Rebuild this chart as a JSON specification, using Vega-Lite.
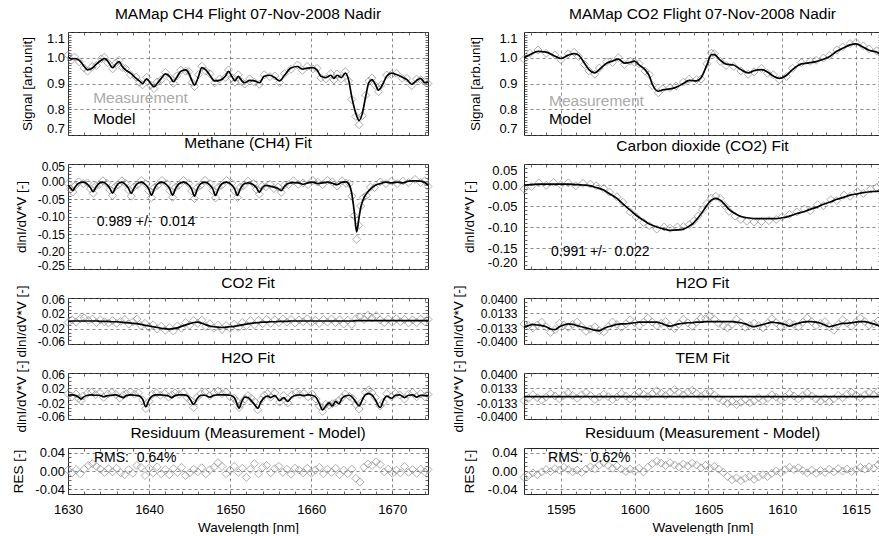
{
  "$schema": "https://vega.github.io/schema/vega-lite/v6.json",
  "padding": {"left": 11, "top": 6, "right": 0, "bottom": 0},
  "columns": 2,
  "spacing": {"row": 29, "column": 96},
  "bounds": "flush",
  "resolve": {"scale": {"x": "independent", "y": "independent"}},
  "config": {
    "font": "Liberation Sans",
    "view": {"stroke": "#222222", "strokeWidth": 1},
    "title": {"font": "Liberation Sans", "fontSize": 15.5, "fontWeight": "normal", "color": "#000000", "baseline": "alphabetic", "offset": 9, "anchor": "middle"},
    "axis": {
      "domain": false, "ticks": false, "labelOverlap": false,
      "labelFont": "Liberation Sans", "labelFontSize": 13, "labelColor": "#000000", "labelPadding": 3.5,
      "titleFont": "Liberation Sans", "titleFontSize": 13.5, "titleFontWeight": "normal", "titleColor": "#000000", "titlePadding": 9,
      "gridColor": "#555555", "gridDash": [3, 3], "gridWidth": 0.7, "gridOpacity": 1,
      "tickColor": "#444444", "tickWidth": 0.8
    },
    "text": {"font": "Liberation Sans"}
  },
  "datasets": {
    "s1": [
      {"w":1630.0,"f":1.004,"m":1.010},{"w":1630.4,"f":0.995,"m":0.990},{"w":1630.8,"f":0.997,"m":1.003},{"w":1631.4,"f":0.990,"m":0.984},
      {"w":1632.0,"f":0.966,"m":0.960},{"w":1632.4,"f":0.953,"m":0.948},{"w":1633.0,"f":0.960,"m":0.966},{"w":1633.5,"f":0.975,"m":0.970},
      {"w":1634.1,"f":0.990,"m":0.996},{"w":1634.5,"f":0.997,"m":1.002},{"w":1634.9,"f":0.987,"m":0.981},{"w":1635.5,"f":0.962,"m":0.957},
      {"w":1635.9,"f":0.975,"m":0.980},{"w":1636.3,"f":0.985,"m":0.990},{"w":1636.7,"f":0.966,"m":0.962},{"w":1637.1,"f":0.953,"m":0.958},
      {"w":1637.7,"f":0.940,"m":0.934},{"w":1638.4,"f":0.920,"m":0.925},{"w":1638.8,"f":0.910,"m":0.904},{"w":1639.2,"f":0.900,"m":0.895},
      {"w":1639.7,"f":0.918,"m":0.924},{"w":1640.2,"f":0.900,"m":0.894},{"w":1640.6,"f":0.887,"m":0.880},{"w":1641.0,"f":0.900,"m":0.906},
      {"w":1641.5,"f":0.920,"m":0.915},{"w":1642.0,"f":0.937,"m":0.943},{"w":1642.6,"f":0.925,"m":0.920},{"w":1643.0,"f":0.907,"m":0.901},
      {"w":1643.4,"f":0.923,"m":0.929},{"w":1643.9,"f":0.947,"m":0.952},{"w":1644.5,"f":0.953,"m":0.948},{"w":1644.9,"f":0.940,"m":0.946},
      {"w":1645.3,"f":0.910,"m":0.904},{"w":1645.6,"f":0.894,"m":0.888},{"w":1646.1,"f":0.928,"m":0.934},{"w":1646.5,"f":0.962,"m":0.967},
      {"w":1647.0,"f":0.953,"m":0.948},{"w":1647.5,"f":0.932,"m":0.938},{"w":1648.1,"f":0.910,"m":0.903},{"w":1648.7,"f":0.912,"m":0.918},
      {"w":1649.4,"f":0.928,"m":0.923},{"w":1649.8,"f":0.947,"m":0.953},{"w":1650.2,"f":0.928,"m":0.922},{"w":1650.6,"f":0.910,"m":0.905},
      {"w":1651.0,"f":0.928,"m":0.934},{"w":1651.4,"f":0.912,"m":0.907},{"w":1651.8,"f":0.903,"m":0.898},{"w":1652.4,"f":0.912,"m":0.918},
      {"w":1653.0,"f":0.910,"m":0.905},{"w":1653.6,"f":0.903,"m":0.897},{"w":1654.2,"f":0.928,"m":0.934},{"w":1654.9,"f":0.932,"m":0.927},
      {"w":1655.5,"f":0.923,"m":0.929},{"w":1656.1,"f":0.910,"m":0.904},{"w":1656.7,"f":0.932,"m":0.938},{"w":1657.5,"f":0.960,"m":0.955},
      {"w":1658.3,"f":0.966,"m":0.972},{"w":1658.9,"f":0.956,"m":0.951},{"w":1659.5,"f":0.960,"m":0.966},{"w":1660.2,"f":0.962,"m":0.957},
      {"w":1660.7,"f":0.953,"m":0.959},{"w":1661.2,"f":0.928,"m":0.922},{"w":1661.8,"f":0.923,"m":0.918},{"w":1662.4,"f":0.932,"m":0.938},
      {"w":1662.8,"f":0.920,"m":0.914},{"w":1663.2,"f":0.932,"m":0.937},{"w":1663.7,"f":0.923,"m":0.918},{"w":1664.2,"f":0.940,"m":0.946},
      {"w":1664.6,"f":0.915,"m":0.910},{"w":1665.0,"f":0.847,"m":0.838},{"w":1665.5,"f":0.784,"m":0.772},{"w":1665.9,"f":0.756,"m":0.740},
      {"w":1666.3,"f":0.784,"m":0.775},{"w":1666.7,"f":0.847,"m":0.855},{"w":1667.1,"f":0.903,"m":0.909},{"w":1667.5,"f":0.915,"m":0.921},
      {"w":1667.9,"f":0.897,"m":0.892},{"w":1668.3,"f":0.874,"m":0.868},{"w":1668.7,"f":0.890,"m":0.896},{"w":1669.3,"f":0.928,"m":0.933},
      {"w":1669.9,"f":0.940,"m":0.935},{"w":1670.5,"f":0.935,"m":0.940},{"w":1671.2,"f":0.925,"m":0.920},{"w":1671.8,"f":0.915,"m":0.920},
      {"w":1672.4,"f":0.897,"m":0.892},{"w":1673.0,"f":0.912,"m":0.917},{"w":1673.5,"f":0.920,"m":0.915},{"w":1674.0,"f":0.903,"m":0.908},
      {"w":1674.4,"f":0.905,"m":0.900}
    ],
    "c1": [
      {"w":1630.0,"f":-0.010,"m":-0.006},{"w":1630.3,"f":-0.018,"m":-0.022},{"w":1630.6,"f":-0.026,"m":-0.030},{"w":1630.9,"f":-0.015,"m":-0.012},
      {"w":1631.3,"f":-0.005,"m":-0.001},{"w":1631.9,"f":-0.002,"m":-0.006},{"w":1632.4,"f":-0.008,"m":-0.004},{"w":1632.75,"f":-0.017,"m":-0.021},
      {"w":1633.1,"f":-0.029,"m":-0.034},{"w":1633.45,"f":-0.016,"m":-0.012},{"w":1633.85,"f":-0.005,"m":-0.009},{"w":1634.3,"f":-0.002,"m":0.002},
      {"w":1634.8,"f":-0.009,"m":-0.005},{"w":1635.15,"f":-0.019,"m":-0.024},{"w":1635.5,"f":-0.033,"m":-0.040},{"w":1635.85,"f":-0.018,"m":-0.014},
      {"w":1636.2,"f":-0.006,"m":-0.010},{"w":1636.65,"f":-0.002,"m":0.002},{"w":1637.1,"f":-0.009,"m":-0.005},{"w":1637.45,"f":-0.019,"m":-0.024},
      {"w":1637.8,"f":-0.034,"m":-0.042},{"w":1638.15,"f":-0.019,"m":-0.015},{"w":1638.55,"f":-0.006,"m":-0.010},{"w":1639.05,"f":-0.002,"m":0.003},
      {"w":1639.6,"f":-0.010,"m":-0.006},{"w":1639.95,"f":-0.021,"m":-0.026},{"w":1640.3,"f":-0.039,"m":-0.046},{"w":1640.65,"f":-0.021,"m":-0.017},
      {"w":1641.05,"f":-0.007,"m":-0.011},{"w":1641.6,"f":-0.002,"m":0.003},{"w":1642.2,"f":-0.010,"m":-0.006},{"w":1642.55,"f":-0.021,"m":-0.026},
      {"w":1642.9,"f":-0.039,"m":-0.045},{"w":1643.25,"f":-0.021,"m":-0.016},{"w":1643.65,"f":-0.007,"m":-0.011},{"w":1644.25,"f":-0.002,"m":0.003},
      {"w":1644.9,"f":-0.010,"m":-0.006},{"w":1645.25,"f":-0.022,"m":-0.027},{"w":1645.6,"f":-0.042,"m":-0.049},{"w":1645.95,"f":-0.022,"m":-0.017},
      {"w":1646.35,"f":-0.007,"m":-0.011},{"w":1646.9,"f":-0.002,"m":0.003},{"w":1647.5,"f":-0.010,"m":-0.006},{"w":1647.85,"f":-0.021,"m":-0.026},
      {"w":1648.2,"f":-0.040,"m":-0.047},{"w":1648.55,"f":-0.021,"m":-0.016},{"w":1648.95,"f":-0.007,"m":-0.011},{"w":1649.55,"f":-0.002,"m":0.003},
      {"w":1650.2,"f":-0.010,"m":-0.005},{"w":1650.55,"f":-0.021,"m":-0.027},{"w":1650.9,"f":-0.040,"m":-0.046},{"w":1651.25,"f":-0.021,"m":-0.016},
      {"w":1651.65,"f":-0.008,"m":-0.012},{"w":1652.2,"f":-0.004,"m":0.001},{"w":1652.9,"f":-0.010,"m":-0.006},{"w":1653.25,"f":-0.018,"m":-0.023},
      {"w":1653.6,"f":-0.031,"m":-0.036},{"w":1653.95,"f":-0.018,"m":-0.013},{"w":1654.4,"f":-0.011,"m":-0.015},{"w":1654.9,"f":-0.013,"m":-0.008},
      {"w":1655.4,"f":-0.016,"m":-0.020},{"w":1655.9,"f":-0.020,"m":-0.016},{"w":1656.3,"f":-0.026,"m":-0.031},{"w":1656.7,"f":-0.014,"m":-0.010},
      {"w":1657.2,"f":-0.005,"m":-0.009},{"w":1657.8,"f":-0.003,"m":0.002},{"w":1658.4,"f":-0.004,"m":-0.008},{"w":1659.0,"f":-0.008,"m":-0.004},
      {"w":1659.6,"f":-0.004,"m":-0.009},{"w":1660.2,"f":-0.002,"m":0.003},{"w":1660.8,"f":-0.006,"m":-0.002},{"w":1661.4,"f":-0.004,"m":-0.009},
      {"w":1662.0,"f":-0.002,"m":0.003},{"w":1662.6,"f":-0.005,"m":-0.001},{"w":1663.2,"f":-0.009,"m":-0.013},{"w":1663.8,"f":-0.002,"m":0.002},
      {"w":1664.3,"f":-0.001,"m":-0.005},{"w":1664.7,"f":-0.010,"m":-0.006},{"w":1665.0,"f":-0.035,"m":-0.042},{"w":1665.3,"f":-0.085,"m":-0.098},
      {"w":1665.6,"f":-0.144,"m":-0.165},{"w":1665.85,"f":-0.110,"m":-0.125},{"w":1666.1,"f":-0.075,"m":-0.070},{"w":1666.4,"f":-0.052,"m":-0.046},
      {"w":1666.8,"f":-0.035,"m":-0.040},{"w":1667.3,"f":-0.022,"m":-0.016},{"w":1667.8,"f":-0.012,"m":-0.017},{"w":1668.5,"f":-0.006,"m":-0.001},
      {"w":1669.2,"f":-0.002,"m":-0.006},{"w":1669.9,"f":-0.004,"m":0.001},{"w":1670.6,"f":-0.002,"m":-0.006},{"w":1671.3,"f":-0.004,"m":0.001},
      {"w":1672.0,"f":0.001,"m":-0.003},{"w":1672.8,"f":0.002,"m":0.006},{"w":1673.5,"f":0.001,"m":-0.003},{"w":1674.0,"f":-0.003,"m":0.002},
      {"w":1674.4,"f":-0.010,"m":-0.014}
    ],
    "g1": [
      {"w":1630.0,"of":-0.001,"om":-0.004,"r":0.002},{"w":1630.5,"of":0.000,"om":0.003,"r":-0.004},{"w":1631.0,"of":0.000,"om":-0.003,"r":0.003},
      {"w":1631.5,"of":0.000,"om":0.006,"r":-0.006},{"w":1632.0,"of":0.000,"om":0.008,"r":0.004},{"w":1632.5,"of":0.000,"om":0.002,"r":0.012},
      {"w":1633.0,"of":0.000,"om":0.005,"r":0.016},{"w":1633.5,"of":0.000,"om":-0.004,"r":0.010},{"w":1634.0,"of":-0.001,"om":0.003,"r":0.004},
      {"w":1634.5,"of":-0.001,"om":-0.002,"r":-0.003},{"w":1635.0,"of":-0.001,"om":-0.005,"r":0.005},{"w":1635.5,"of":-0.002,"om":0.001,"r":-0.002},
      {"w":1636.0,"of":-0.002,"om":-0.006,"r":0.006},{"w":1636.5,"of":-0.003,"om":-0.001,"r":-0.004},{"w":1637.0,"of":-0.004,"om":0.004,"r":-0.008},
      {"w":1637.5,"of":-0.005,"om":-0.008,"r":0.003},{"w":1638.0,"of":-0.006,"om":-0.002,"r":-0.005},{"w":1638.5,"of":-0.007,"om":0.005,"r":0.012},
      {"w":1639.0,"of":-0.009,"om":-0.012,"r":0.008},{"w":1639.5,"of":-0.011,"om":-0.006,"r":-0.010},{"w":1640.0,"of":-0.013,"om":-0.016,"r":0.006},
      {"w":1640.5,"of":-0.015,"om":-0.010,"r":-0.004},{"w":1641.0,"of":-0.017,"om":-0.021,"r":0.009},{"w":1641.5,"of":-0.019,"om":-0.014,"r":-0.006},
      {"w":1642.0,"of":-0.020,"om":-0.024,"r":0.003},{"w":1642.5,"of":-0.021,"om":-0.017,"r":-0.008},{"w":1643.0,"of":-0.020,"om":-0.026,"r":0.005},
      {"w":1643.5,"of":-0.018,"om":-0.013,"r":-0.003},{"w":1644.0,"of":-0.014,"om":-0.019,"r":0.008},{"w":1644.5,"of":-0.010,"om":-0.004,"r":-0.010},
      {"w":1645.0,"of":-0.007,"om":-0.011,"r":-0.004},{"w":1645.5,"of":-0.004,"om":0.001,"r":0.004},{"w":1646.0,"of":-0.003,"om":-0.006,"r":-0.002},
      {"w":1646.5,"of":-0.006,"om":0.002,"r":0.007},{"w":1647.0,"of":-0.010,"om":-0.014,"r":-0.006},{"w":1647.5,"of":-0.013,"om":-0.007,"r":0.003},
      {"w":1648.0,"of":-0.015,"om":-0.019,"r":0.008},{"w":1648.5,"of":-0.016,"om":-0.011,"r":0.018},{"w":1649.0,"of":-0.017,"om":-0.022,"r":0.010},
      {"w":1649.5,"of":-0.016,"om":-0.012,"r":-0.006},{"w":1650.0,"of":-0.015,"om":-0.019,"r":0.002},{"w":1650.5,"of":-0.014,"om":-0.008,"r":0.010},
      {"w":1651.0,"of":-0.012,"om":-0.017,"r":-0.003},{"w":1651.5,"of":-0.010,"om":-0.004,"r":0.006},{"w":1652.0,"of":-0.008,"om":-0.012,"r":-0.014},
      {"w":1652.5,"of":-0.006,"om":0.001,"r":0.004},{"w":1653.0,"of":-0.005,"om":-0.010,"r":0.016},{"w":1653.5,"of":-0.004,"om":0.002,"r":-0.006},
      {"w":1654.0,"of":-0.003,"om":-0.007,"r":0.008},{"w":1654.5,"of":-0.003,"om":0.004,"r":0.012},{"w":1655.0,"of":-0.002,"om":-0.006,"r":-0.004},
      {"w":1655.5,"of":-0.002,"om":0.003,"r":0.005},{"w":1656.0,"of":-0.001,"om":-0.004,"r":0.010},{"w":1656.5,"of":-0.001,"om":0.005,"r":-0.003},
      {"w":1657.0,"of":-0.001,"om":-0.003,"r":0.004},{"w":1657.5,"of":0.000,"om":0.004,"r":-0.007},{"w":1658.0,"of":0.000,"om":-0.005,"r":0.006},
      {"w":1658.5,"of":0.000,"om":0.003,"r":0.002},{"w":1659.0,"of":0.000,"om":-0.002,"r":-0.004},{"w":1659.5,"of":0.000,"om":0.006,"r":0.006},
      {"w":1660.0,"of":0.000,"om":-0.004,"r":-0.005},{"w":1660.5,"of":0.000,"om":0.002,"r":0.002},{"w":1661.0,"of":0.000,"om":-0.006,"r":0.008},
      {"w":1661.5,"of":0.000,"om":0.004,"r":-0.006},{"w":1662.0,"of":0.000,"om":-0.003,"r":0.004},{"w":1662.5,"of":0.000,"om":0.005,"r":-0.003},
      {"w":1663.0,"of":0.000,"om":-0.004,"r":0.006},{"w":1663.5,"of":0.000,"om":0.003,"r":-0.008},{"w":1664.0,"of":0.000,"om":-0.008,"r":0.002},
      {"w":1664.5,"of":0.000,"om":0.002,"r":-0.006},{"w":1665.0,"of":0.000,"om":-0.009,"r":0.004},{"w":1665.5,"of":0.001,"om":0.006,"r":-0.016},
      {"w":1666.0,"of":0.001,"om":0.011,"r":-0.024},{"w":1666.5,"of":0.001,"om":0.004,"r":0.008},{"w":1667.0,"of":0.001,"om":0.015,"r":0.015},
      {"w":1667.5,"of":0.001,"om":0.008,"r":0.012},{"w":1668.0,"of":0.001,"om":0.014,"r":0.020},{"w":1668.5,"of":0.001,"om":0.003,"r":0.014},
      {"w":1669.0,"of":0.001,"om":-0.004,"r":-0.002},{"w":1669.5,"of":0.001,"om":0.005,"r":0.004},{"w":1670.0,"of":0.001,"om":-0.003,"r":-0.005},
      {"w":1670.5,"of":0.001,"om":0.006,"r":0.002},{"w":1671.0,"of":0.001,"om":-0.002,"r":-0.004},{"w":1671.5,"of":0.001,"om":0.004,"r":0.010},
      {"w":1672.0,"of":0.001,"om":-0.005,"r":-0.003},{"w":1672.5,"of":0.001,"om":0.003,"r":0.003},{"w":1673.0,"of":0.001,"om":-0.004,"r":-0.005},
      {"w":1673.5,"of":0.001,"om":0.005,"r":0.004},{"w":1674.0,"of":0.001,"om":-0.002,"r":-0.002},{"w":1674.4,"of":0.001,"om":0.004,"r":0.003}
    ],
    "h1": [
      {"w":1630.0,"f":0.002,"m":0.006},{"w":1630.5,"f":0.003,"m":-0.002},{"w":1631.0,"f":0.001,"m":0.005},{"w":1631.3,"f":-0.003,"m":-0.006},
      {"w":1631.6,"f":-0.008,"m":-0.012},{"w":1631.9,"f":-0.003,"m":0.000},{"w":1632.4,"f":0.002,"m":0.007},{"w":1632.9,"f":0.003,"m":0.010},
      {"w":1633.4,"f":0.002,"m":0.004},{"w":1633.9,"f":0.002,"m":0.008},{"w":1634.4,"f":-0.002,"m":-0.004},{"w":1634.9,"f":0.001,"m":0.005},
      {"w":1635.4,"f":0.002,"m":0.009},{"w":1635.9,"f":0.003,"m":0.004},{"w":1636.4,"f":-0.001,"m":-0.005},{"w":1636.8,"f":-0.004,"m":0.002},
      {"w":1637.2,"f":0.001,"m":0.006},{"w":1637.7,"f":0.003,"m":0.011},{"w":1638.2,"f":0.002,"m":0.005},{"w":1638.7,"f":0.001,"m":0.008},
      {"w":1639.2,"f":-0.008,"m":-0.010},{"w":1639.6,"f":-0.028,"m":-0.033},{"w":1640.0,"f":-0.010,"m":-0.014},{"w":1640.4,"f":0.000,"m":0.004},
      {"w":1640.9,"f":0.003,"m":0.008},{"w":1641.4,"f":0.003,"m":0.002},{"w":1641.9,"f":0.002,"m":0.007},{"w":1642.4,"f":0.000,"m":-0.003},
      {"w":1642.8,"f":-0.004,"m":0.003},{"w":1643.2,"f":0.001,"m":0.008},{"w":1643.7,"f":0.003,"m":0.004},{"w":1644.2,"f":0.003,"m":0.009},
      {"w":1644.7,"f":0.001,"m":-0.004},{"w":1645.1,"f":-0.010,"m":-0.012},{"w":1645.5,"f":-0.022,"m":-0.030},{"w":1645.9,"f":-0.008,"m":-0.004},
      {"w":1646.4,"f":0.002,"m":0.006},{"w":1646.9,"f":0.002,"m":0.010},{"w":1647.5,"f":-0.003,"m":0.001},{"w":1648.0,"f":0.002,"m":0.008},
      {"w":1648.5,"f":0.003,"m":0.013},{"w":1649.0,"f":0.003,"m":0.006},{"w":1649.5,"f":0.003,"m":0.010},{"w":1650.0,"f":0.002,"m":-0.002},
      {"w":1650.5,"f":-0.004,"m":-0.006},{"w":1650.8,"f":-0.018,"m":-0.014},{"w":1651.1,"f":-0.032,"m":-0.030},{"w":1651.4,"f":-0.016,"m":-0.020},
      {"w":1651.8,"f":-0.003,"m":-0.008},{"w":1652.2,"f":-0.004,"m":0.001},{"w":1652.6,"f":-0.012,"m":-0.006},{"w":1653.0,"f":-0.022,"m":-0.015},
      {"w":1653.4,"f":-0.032,"m":-0.036},{"w":1653.8,"f":-0.015,"m":-0.010},{"w":1654.2,"f":-0.004,"m":0.002},{"w":1654.6,"f":0.000,"m":0.006},
      {"w":1655.0,"f":-0.004,"m":-0.003},{"w":1655.5,"f":0.001,"m":0.008},{"w":1656.1,"f":-0.012,"m":-0.016},{"w":1656.6,"f":-0.004,"m":0.001},
      {"w":1657.1,"f":-0.014,"m":-0.018},{"w":1657.6,"f":-0.003,"m":0.003},{"w":1658.1,"f":0.002,"m":0.008},{"w":1658.6,"f":0.003,"m":0.004},
      {"w":1659.1,"f":0.001,"m":0.007},{"w":1659.6,"f":0.003,"m":-0.002},{"w":1660.1,"f":0.002,"m":0.005},{"w":1660.6,"f":-0.004,"m":-0.008},
      {"w":1661.0,"f":-0.020,"m":-0.026},{"w":1661.4,"f":-0.036,"m":-0.040},{"w":1661.8,"f":-0.026,"m":-0.022},{"w":1662.2,"f":-0.018,"m":-0.024},
      {"w":1662.6,"f":-0.026,"m":-0.020},{"w":1663.0,"f":-0.014,"m":-0.018},{"w":1663.4,"f":-0.020,"m":-0.012},{"w":1663.8,"f":-0.006,"m":-0.004},
      {"w":1664.2,"f":0.000,"m":0.005},{"w":1664.7,"f":0.002,"m":-0.001},{"w":1665.1,"f":-0.004,"m":-0.006},{"w":1665.5,"f":-0.016,"m":-0.022},
      {"w":1665.9,"f":-0.026,"m":-0.034},{"w":1666.3,"f":-0.010,"m":-0.014},{"w":1666.7,"f":0.004,"m":0.010},{"w":1667.1,"f":0.006,"m":0.016},
      {"w":1667.5,"f":0.002,"m":0.008},{"w":1667.9,"f":-0.010,"m":-0.004},{"w":1668.5,"f":-0.030,"m":-0.026},{"w":1668.9,"f":-0.012,"m":-0.016},
      {"w":1669.3,"f":0.000,"m":0.006},{"w":1669.9,"f":-0.006,"m":-0.002},{"w":1670.4,"f":0.002,"m":0.007},{"w":1670.9,"f":0.003,"m":0.003},
      {"w":1671.5,"f":-0.004,"m":-0.008},{"w":1672.0,"f":0.002,"m":0.005},{"w":1672.5,"f":0.003,"m":0.009},{"w":1673.0,"f":-0.003,"m":-0.002},
      {"w":1673.5,"f":0.002,"m":0.006},{"w":1674.0,"f":0.001,"m":-0.002},{"w":1674.4,"f":0.001,"m":0.004}
    ],
    "s2": [
      {"w":1592.5,"f":1.000,"m":0.994},{"w":1592.9,"f":1.012,"m":1.017},{"w":1593.45,"f":1.025,"m":1.030},{"w":1594.0,"f":1.022,"m":1.017},
      {"w":1594.6,"f":1.006,"m":1.011},{"w":1595.0,"f":0.997,"m":0.992},{"w":1595.5,"f":1.010,"m":1.015},{"w":1595.9,"f":1.016,"m":1.021},
      {"w":1596.2,"f":1.010,"m":1.005},{"w":1596.6,"f":0.979,"m":0.974},{"w":1596.9,"f":0.954,"m":0.949},{"w":1597.3,"f":0.941,"m":0.936},
      {"w":1597.6,"f":0.954,"m":0.960},{"w":1598.1,"f":0.979,"m":0.984},{"w":1598.5,"f":0.987,"m":0.982},{"w":1598.9,"f":0.995,"m":1.000},
      {"w":1599.3,"f":0.979,"m":0.974},{"w":1599.7,"f":0.982,"m":0.987},{"w":1600.0,"f":0.987,"m":0.982},{"w":1600.3,"f":0.972,"m":0.977},
      {"w":1600.7,"f":0.954,"m":0.949},{"w":1601.0,"f":0.929,"m":0.934},{"w":1601.2,"f":0.897,"m":0.892},{"w":1601.6,"f":0.870,"m":0.864},
      {"w":1601.9,"f":0.875,"m":0.880},{"w":1602.4,"f":0.879,"m":0.884},{"w":1602.8,"f":0.885,"m":0.890},{"w":1603.3,"f":0.900,"m":0.905},
      {"w":1603.7,"f":0.912,"m":0.917},{"w":1604.2,"f":0.910,"m":0.915},{"w":1604.5,"f":0.922,"m":0.917},{"w":1604.9,"f":0.972,"m":0.977},
      {"w":1605.2,"f":1.012,"m":1.018},{"w":1605.4,"f":1.012,"m":1.016},{"w":1605.8,"f":0.991,"m":0.986},{"w":1606.2,"f":0.975,"m":0.970},
      {"w":1606.7,"f":0.972,"m":0.967},{"w":1607.2,"f":0.954,"m":0.949},{"w":1607.7,"f":0.941,"m":0.936},{"w":1608.1,"f":0.950,"m":0.945},
      {"w":1608.6,"f":0.954,"m":0.959},{"w":1609.0,"f":0.945,"m":0.940},{"w":1609.4,"f":0.929,"m":0.934},{"w":1609.8,"f":0.920,"m":0.915},
      {"w":1610.3,"f":0.932,"m":0.927},{"w":1610.7,"f":0.954,"m":0.959},{"w":1611.3,"f":0.976,"m":0.981},{"w":1611.9,"f":0.981,"m":0.986},
      {"w":1612.3,"f":0.985,"m":0.990},{"w":1612.8,"f":0.994,"m":0.999},{"w":1613.2,"f":1.004,"m":1.009},{"w":1613.7,"f":1.025,"m":1.030},
      {"w":1614.1,"f":1.037,"m":1.042},{"w":1614.6,"f":1.050,"m":1.055},{"w":1615.0,"f":1.054,"m":1.059},{"w":1615.5,"f":1.041,"m":1.046},
      {"w":1615.9,"f":1.029,"m":1.034},{"w":1616.4,"f":1.022,"m":1.027},{"w":1616.7,"f":1.012,"m":1.017}
    ],
    "c2": [
      {"w":1592.5,"f":0.000,"m":-0.010},{"w":1593.0,"f":0.001,"m":-0.004},{"w":1593.5,"f":0.002,"m":0.005},{"w":1594.0,"f":0.002,"m":-0.001},
      {"w":1594.5,"f":0.002,"m":0.006},{"w":1595.0,"f":0.002,"m":0.001},{"w":1595.5,"f":0.002,"m":0.005},{"w":1596.0,"f":0.001,"m":-0.002},
      {"w":1596.5,"f":0.000,"m":0.004},{"w":1597.0,"f":-0.002,"m":0.002},{"w":1597.4,"f":-0.006,"m":-0.002},{"w":1597.9,"f":-0.012,"m":-0.008},
      {"w":1598.3,"f":-0.021,"m":-0.017},{"w":1598.8,"f":-0.032,"m":-0.028},{"w":1599.2,"f":-0.045,"m":-0.041},{"w":1599.7,"f":-0.060,"m":-0.064},
      {"w":1600.1,"f":-0.072,"m":-0.076},{"w":1600.6,"f":-0.084,"m":-0.089},{"w":1601.0,"f":-0.093,"m":-0.097},{"w":1601.5,"f":-0.100,"m":-0.105},
      {"w":1602.0,"f":-0.105,"m":-0.100},{"w":1602.4,"f":-0.108,"m":-0.103},{"w":1602.9,"f":-0.107,"m":-0.100},{"w":1603.3,"f":-0.105,"m":-0.099},
      {"w":1603.7,"f":-0.098,"m":-0.094},{"w":1604.0,"f":-0.090,"m":-0.086},{"w":1604.3,"f":-0.078,"m":-0.074},{"w":1604.6,"f":-0.064,"m":-0.059},
      {"w":1604.9,"f":-0.048,"m":-0.044},{"w":1605.2,"f":-0.036,"m":-0.031},{"w":1605.5,"f":-0.032,"m":-0.027},{"w":1605.8,"f":-0.036,"m":-0.032},
      {"w":1606.1,"f":-0.046,"m":-0.049},{"w":1606.4,"f":-0.058,"m":-0.063},{"w":1606.8,"f":-0.068,"m":-0.074},{"w":1607.2,"f":-0.075,"m":-0.082},
      {"w":1607.6,"f":-0.078,"m":-0.086},{"w":1608.1,"f":-0.080,"m":-0.088},{"w":1608.6,"f":-0.080,"m":-0.087},{"w":1609.1,"f":-0.080,"m":-0.085},
      {"w":1609.6,"f":-0.080,"m":-0.082},{"w":1610.0,"f":-0.078,"m":-0.076},{"w":1610.5,"f":-0.074,"m":-0.070},{"w":1611.0,"f":-0.068,"m":-0.064},
      {"w":1611.5,"f":-0.063,"m":-0.057},{"w":1611.9,"f":-0.058,"m":-0.061},{"w":1612.4,"f":-0.052,"m":-0.047},{"w":1612.8,"f":-0.046,"m":-0.049},
      {"w":1613.3,"f":-0.040,"m":-0.035},{"w":1613.7,"f":-0.034,"m":-0.037},{"w":1614.2,"f":-0.029,"m":-0.024},{"w":1614.6,"f":-0.024,"m":-0.027},
      {"w":1615.1,"f":-0.021,"m":-0.016},{"w":1615.5,"f":-0.018,"m":-0.020},{"w":1616.0,"f":-0.016,"m":-0.010},{"w":1616.4,"f":-0.015,"m":-0.006},
      {"w":1616.7,"f":-0.014,"m":0.002}
    ],
    "g2": [
      {"w":1592.5,"hf":-0.011,"hm":-0.005,"tf":-0.001,"tm":-0.008,"r":-0.014},
      {"w":1592.8,"hf":-0.008,"hm":-0.008,"tf":-0.001,"tm":-0.004,"r":-0.010},
      {"w":1593.1,"hf":-0.006,"hm":-0.012,"tf":-0.001,"tm":0.002,"r":-0.004},
      {"w":1593.4,"hf":-0.007,"hm":-0.007,"tf":-0.001,"tm":-0.003,"r":-0.008},
      {"w":1593.7,"hf":-0.008,"hm":-0.002,"tf":-0.001,"tm":-0.007,"r":-0.002},
      {"w":1594.0,"hf":-0.010,"hm":-0.010,"tf":-0.001,"tm":-0.002,"r":0.003},
      {"w":1594.3,"hf":-0.014,"hm":-0.020,"tf":-0.001,"tm":0.004,"r":-0.001},
      {"w":1594.6,"hf":-0.015,"hm":-0.015,"tf":-0.001,"tm":0.000,"r":0.005},
      {"w":1594.9,"hf":-0.010,"hm":-0.004,"tf":-0.001,"tm":-0.005,"r":0.002},
      {"w":1595.2,"hf":-0.007,"hm":-0.007,"tf":-0.001,"tm":0.001,"r":0.008},
      {"w":1595.5,"hf":-0.005,"hm":-0.011,"tf":-0.001,"tm":0.005,"r":0.003},
      {"w":1595.8,"hf":-0.006,"hm":-0.006,"tf":-0.001,"tm":0.001,"r":-0.002},
      {"w":1596.1,"hf":-0.008,"hm":-0.002,"tf":-0.001,"tm":-0.004,"r":0.002},
      {"w":1596.4,"hf":-0.010,"hm":-0.010,"tf":-0.001,"tm":0.002,"r":-0.003},
      {"w":1596.7,"hf":-0.012,"hm":-0.018,"tf":-0.001,"tm":0.006,"r":0.004},
      {"w":1597.0,"hf":-0.014,"hm":-0.014,"tf":-0.001,"tm":0.001,"r":0.009},
      {"w":1597.3,"hf":-0.016,"hm":-0.010,"tf":-0.001,"tm":-0.006,"r":0.005},
      {"w":1597.6,"hf":-0.017,"hm":-0.017,"tf":-0.001,"tm":-0.002,"r":0.013},
      {"w":1597.9,"hf":-0.013,"hm":-0.019,"tf":-0.001,"tm":0.003,"r":0.018},
      {"w":1598.2,"hf":-0.010,"hm":-0.010,"tf":-0.001,"tm":-0.001,"r":0.012},
      {"w":1598.5,"hf":-0.008,"hm":-0.002,"tf":-0.001,"tm":-0.006,"r":0.006},
      {"w":1598.8,"hf":-0.006,"hm":-0.006,"tf":-0.001,"tm":-0.002,"r":0.011},
      {"w":1599.1,"hf":-0.005,"hm":-0.011,"tf":-0.001,"tm":0.004,"r":0.004},
      {"w":1599.4,"hf":-0.005,"hm":-0.005,"tf":-0.001,"tm":0.000,"r":-0.001},
      {"w":1599.7,"hf":-0.004,"hm":0.002,"tf":-0.001,"tm":-0.005,"r":0.004},
      {"w":1600.0,"hf":-0.003,"hm":-0.003,"tf":-0.001,"tm":0.001,"r":0.000},
      {"w":1600.3,"hf":-0.002,"hm":-0.008,"tf":-0.001,"tm":0.007,"r":0.006},
      {"w":1600.6,"hf":-0.002,"hm":-0.002,"tf":-0.001,"tm":0.003,"r":-0.002},
      {"w":1600.9,"hf":-0.002,"hm":0.005,"tf":-0.001,"tm":-0.001,"r":0.008},
      {"w":1601.2,"hf":-0.002,"hm":-0.002,"tf":-0.001,"tm":0.004,"r":0.016},
      {"w":1601.5,"hf":-0.002,"hm":-0.008,"tf":-0.001,"tm":0.009,"r":0.021},
      {"w":1601.8,"hf":-0.004,"hm":-0.004,"tf":-0.001,"tm":0.005,"r":0.017},
      {"w":1602.1,"hf":-0.007,"hm":-0.001,"tf":-0.001,"tm":0.001,"r":0.012},
      {"w":1602.4,"hf":-0.009,"hm":-0.009,"tf":-0.001,"tm":0.006,"r":0.018},
      {"w":1602.7,"hf":-0.007,"hm":-0.013,"tf":-0.001,"tm":0.011,"r":0.013},
      {"w":1603.0,"hf":-0.005,"hm":-0.005,"tf":-0.001,"tm":0.006,"r":0.009},
      {"w":1603.3,"hf":-0.004,"hm":0.003,"tf":-0.001,"tm":0.002,"r":0.015},
      {"w":1603.6,"hf":-0.003,"hm":-0.003,"tf":-0.001,"tm":0.007,"r":0.011},
      {"w":1603.9,"hf":-0.003,"hm":-0.009,"tf":-0.001,"tm":0.010,"r":0.017},
      {"w":1604.2,"hf":-0.002,"hm":-0.002,"tf":-0.001,"tm":0.004,"r":0.013},
      {"w":1604.5,"hf":-0.002,"hm":0.005,"tf":-0.001,"tm":-0.001,"r":0.007},
      {"w":1604.8,"hf":-0.001,"hm":0.004,"tf":-0.001,"tm":0.004,"r":0.012},
      {"w":1605.1,"hf":-0.001,"hm":0.008,"tf":-0.001,"tm":0.007,"r":0.006},
      {"w":1605.4,"hf":-0.001,"hm":0.003,"tf":-0.001,"tm":0.002,"r":0.010},
      {"w":1605.7,"hf":-0.001,"hm":-0.004,"tf":-0.001,"tm":-0.004,"r":0.004},
      {"w":1606.0,"hf":-0.001,"hm":-0.008,"tf":-0.001,"tm":-0.008,"r":-0.003},
      {"w":1606.3,"hf":-0.001,"hm":-0.012,"tf":-0.001,"tm":-0.013,"r":-0.012},
      {"w":1606.6,"hf":-0.001,"hm":-0.006,"tf":-0.001,"tm":-0.009,"r":-0.019},
      {"w":1606.9,"hf":-0.002,"hm":0.003,"tf":-0.001,"tm":-0.015,"r":-0.015},
      {"w":1607.2,"hf":-0.003,"hm":-0.003,"tf":-0.001,"tm":-0.011,"r":-0.021},
      {"w":1607.5,"hf":-0.005,"hm":-0.011,"tf":-0.001,"tm":-0.006,"r":-0.016},
      {"w":1607.8,"hf":-0.008,"hm":-0.008,"tf":-0.001,"tm":-0.012,"r":-0.012},
      {"w":1608.1,"hf":-0.010,"hm":-0.004,"tf":-0.001,"tm":-0.008,"r":-0.018},
      {"w":1608.4,"hf":-0.008,"hm":-0.008,"tf":-0.001,"tm":-0.003,"r":-0.013},
      {"w":1608.7,"hf":-0.006,"hm":-0.012,"tf":-0.001,"tm":-0.008,"r":-0.008},
      {"w":1609.0,"hf":-0.004,"hm":-0.004,"tf":-0.001,"tm":-0.004,"r":-0.012},
      {"w":1609.3,"hf":-0.002,"hm":0.004,"tf":-0.001,"tm":0.002,"r":-0.005},
      {"w":1609.6,"hf":-0.003,"hm":-0.003,"tf":-0.001,"tm":-0.002,"r":0.000},
      {"w":1609.9,"hf":-0.004,"hm":-0.010,"tf":-0.001,"tm":-0.007,"r":-0.004},
      {"w":1610.2,"hf":-0.006,"hm":-0.006,"tf":-0.001,"tm":-0.002,"r":0.003},
      {"w":1610.5,"hf":-0.009,"hm":-0.003,"tf":-0.001,"tm":0.004,"r":0.008},
      {"w":1610.8,"hf":-0.006,"hm":-0.006,"tf":-0.001,"tm":0.000,"r":0.003},
      {"w":1611.1,"hf":-0.004,"hm":-0.010,"tf":-0.001,"tm":-0.005,"r":0.007},
      {"w":1611.4,"hf":-0.002,"hm":-0.002,"tf":-0.001,"tm":0.001,"r":0.001},
      {"w":1611.7,"hf":-0.001,"hm":0.005,"tf":-0.001,"tm":0.005,"r":-0.004},
      {"w":1612.0,"hf":-0.001,"hm":-0.001,"tf":-0.001,"tm":0.000,"r":0.002},
      {"w":1612.3,"hf":-0.002,"hm":-0.008,"tf":-0.001,"tm":-0.005,"r":-0.005},
      {"w":1612.6,"hf":-0.004,"hm":-0.004,"tf":-0.001,"tm":-0.009,"r":0.001},
      {"w":1612.9,"hf":-0.007,"hm":-0.001,"tf":-0.001,"tm":-0.004,"r":-0.003},
      {"w":1613.2,"hf":-0.010,"hm":-0.010,"tf":-0.001,"tm":-0.010,"r":0.004},
      {"w":1613.5,"hf":-0.008,"hm":-0.016,"tf":-0.001,"tm":-0.005,"r":-0.002},
      {"w":1613.8,"hf":-0.006,"hm":-0.006,"tf":-0.001,"tm":0.001,"r":0.005},
      {"w":1614.1,"hf":-0.004,"hm":0.002,"tf":-0.001,"tm":-0.003,"r":0.000},
      {"w":1614.4,"hf":-0.004,"hm":-0.004,"tf":-0.001,"tm":0.003,"r":0.004},
      {"w":1614.7,"hf":-0.003,"hm":-0.009,"tf":-0.001,"tm":0.006,"r":-0.001},
      {"w":1615.0,"hf":-0.002,"hm":-0.002,"tf":-0.001,"tm":0.002,"r":0.003},
      {"w":1615.3,"hf":-0.001,"hm":0.005,"tf":-0.001,"tm":-0.003,"r":0.008},
      {"w":1615.6,"hf":-0.001,"hm":-0.001,"tf":-0.001,"tm":0.002,"r":0.004},
      {"w":1615.9,"hf":-0.003,"hm":-0.007,"tf":-0.001,"tm":0.006,"r":0.009},
      {"w":1616.2,"hf":-0.005,"hm":-0.005,"tf":-0.001,"tm":0.002,"r":0.006},
      {"w":1616.5,"hf":-0.008,"hm":0.000,"tf":-0.001,"tm":0.008,"r":0.013},
      {"w":1616.7,"hf":-0.011,"hm":-0.006,"tf":-0.001,"tm":0.004,"r":0.020}
    ]
  },
  "concat": [
    {
      "width": 360, "height": 103,
      "title": "MAMap CH4 Flight 07-Nov-2008 Nadir",
      "data": {"name": "s1"},
      "resolve": {"axis": {"x": "independent", "y": "independent"}},
      "layer": [
        {"mark": {"type": "point", "shape": "diamond", "filled": false, "color": "#8c8c8c", "strokeWidth": 1, "size": 64},
         "encoding": {
           "x": {"field": "w", "type": "quantitative", "scale": {"domain": [1630, 1674.4], "nice": false, "zero": false},
                 "axis": {"orient": "bottom", "values": [1630, 1640, 1650, 1660, 1670], "grid": true, "labels": false, "title": null}},
           "y": {"field": "m", "type": "quantitative", "scale": {"domain": [0.7, 1.1], "nice": false, "zero": false},
                 "axis": {"orient": "left", "values": [0.7, 0.8, 0.9, 1.0, 1.1], "grid": true, "format": ".1f", "labelFlush": true, "titlePadding": 12, "title": "Signal [arb.unit]"}}}},
        {"transform": [{"filter": {"field": "f", "valid": true}}],
         "mark": {"type": "line", "color": "#000000", "strokeWidth": 1.7, "interpolate": "monotone"},
         "encoding": {
           "x": {"field": "w", "type": "quantitative", "scale": {"domain": [1630, 1674.4], "nice": false, "zero": false},
                 "axis": {"orient": "bottom", "values": [1630,1632,1634,1636,1638,1640,1642,1644,1646,1648,1650,1652,1654,1656,1658,1660,1662,1664,1666,1668,1670,1672,1674], "labels": false, "ticks": true, "tickSize": 3, "offset": -3, "grid": false, "title": null}},
           "y": {"field": "f", "type": "quantitative", "scale": {"domain": [0.7, 1.1], "nice": false, "zero": false},
                 "axis": {"orient": "left", "values": [0.7,0.71,0.72,0.73,0.74,0.75,0.76,0.77,0.78,0.79,0.8,0.81,0.82,0.83,0.84,0.85,0.86,0.87,0.88,0.89,0.9,0.91,0.92,0.93,0.94,0.95,0.96,0.97,0.98,0.99,1.0,1.01,1.02,1.03,1.04,1.05,1.06,1.07,1.08,1.09,1.1], "labels": false, "ticks": true, "tickSize": 3, "offset": -3, "grid": false, "title": null}}}},
        {"data": {"values": [{"w": 1633.1, "v": 0.845, "t": "Measurement"}]},
         "mark": {"type": "text", "align": "left", "baseline": "middle", "fontSize": 15.5, "color": "#aaaaaa"},
         "encoding": {
           "x": {"field": "w", "type": "quantitative", "scale": {"domain": [1630, 1674.4], "nice": false, "zero": false},
                 "axis": {"orient": "top", "values": [1630,1632,1634,1636,1638,1640,1642,1644,1646,1648,1650,1652,1654,1656,1658,1660,1662,1664,1666,1668,1670,1672,1674], "labels": false, "ticks": true, "tickSize": 3, "offset": -3, "grid": false, "title": null}},
           "y": {"field": "v", "type": "quantitative", "scale": {"domain": [0.7, 1.1], "nice": false, "zero": false},
                 "axis": {"orient": "right", "values": [0.7,0.71,0.72,0.73,0.74,0.75,0.76,0.77,0.78,0.79,0.8,0.81,0.82,0.83,0.84,0.85,0.86,0.87,0.88,0.89,0.9,0.91,0.92,0.93,0.94,0.95,0.96,0.97,0.98,0.99,1.0,1.01,1.02,1.03,1.04,1.05,1.06,1.07,1.08,1.09,1.1], "labels": false, "ticks": true, "tickSize": 3, "offset": -3, "grid": false, "title": null}},
           "text": {"field": "t"}}},
        {"data": {"values": [{"w": 1633.1, "v": 0.763, "t": "Model"}]},
         "mark": {"type": "text", "align": "left", "baseline": "middle", "fontSize": 15.5, "color": "#000000"},
         "encoding": {
           "x": {"field": "w", "type": "quantitative", "scale": {"domain": [1630, 1674.4], "nice": false, "zero": false}, "axis": null},
           "y": {"field": "v", "type": "quantitative", "scale": {"domain": [0.7, 1.1], "nice": false, "zero": false}, "axis": null},
           "text": {"field": "t"}}}
      ]
    },
    {
      "width": 357, "height": 103,
      "title": "MAMap CO2 Flight 07-Nov-2008 Nadir",
      "data": {"name": "s2"},
      "resolve": {"axis": {"x": "independent", "y": "independent"}},
      "layer": [
        {"mark": {"type": "point", "shape": "diamond", "filled": false, "color": "#8c8c8c", "strokeWidth": 1, "size": 64},
         "encoding": {
           "x": {"field": "w", "type": "quantitative", "scale": {"domain": [1592.5, 1616.7], "nice": false, "zero": false},
                 "axis": {"orient": "bottom", "values": [1595, 1600, 1605, 1610, 1615], "grid": true, "labels": false, "title": null}},
           "y": {"field": "m", "type": "quantitative", "scale": {"domain": [0.7, 1.1], "nice": false, "zero": false},
                 "axis": {"orient": "left", "values": [0.7, 0.8, 0.9, 1.0, 1.1], "grid": true, "format": ".1f", "labelFlush": true, "labelPadding": 7, "titlePadding": 16, "title": "Signal [arb.unit]"}}}},
        {"transform": [{"filter": {"field": "f", "valid": true}}],
         "mark": {"type": "line", "color": "#000000", "strokeWidth": 1.7, "interpolate": "monotone"},
         "encoding": {
           "x": {"field": "w", "type": "quantitative", "scale": {"domain": [1592.5, 1616.7], "nice": false, "zero": false},
                 "axis": {"orient": "bottom", "values": [1593,1594,1595,1596,1597,1598,1599,1600,1601,1602,1603,1604,1605,1606,1607,1608,1609,1610,1611,1612,1613,1614,1615,1616], "labels": false, "ticks": true, "tickSize": 3, "offset": -3, "grid": false, "title": null}},
           "y": {"field": "f", "type": "quantitative", "scale": {"domain": [0.7, 1.1], "nice": false, "zero": false},
                 "axis": {"orient": "left", "values": [0.7,0.71,0.72,0.73,0.74,0.75,0.76,0.77,0.78,0.79,0.8,0.81,0.82,0.83,0.84,0.85,0.86,0.87,0.88,0.89,0.9,0.91,0.92,0.93,0.94,0.95,0.96,0.97,0.98,0.99,1.0,1.01,1.02,1.03,1.04,1.05,1.06,1.07,1.08,1.09,1.1], "labels": false, "ticks": true, "tickSize": 3, "offset": -3, "grid": false, "title": null}}}},
        {"data": {"values": [{"w": 1594.2, "v": 0.832, "t": "Measurement"}]},
         "mark": {"type": "text", "align": "left", "baseline": "middle", "fontSize": 15.5, "color": "#aaaaaa"},
         "encoding": {
           "x": {"field": "w", "type": "quantitative", "scale": {"domain": [1592.5, 1616.7], "nice": false, "zero": false},
                 "axis": {"orient": "top", "values": [1593,1594,1595,1596,1597,1598,1599,1600,1601,1602,1603,1604,1605,1606,1607,1608,1609,1610,1611,1612,1613,1614,1615,1616], "labels": false, "ticks": true, "tickSize": 3, "offset": -3, "grid": false, "title": null}},
           "y": {"field": "v", "type": "quantitative", "scale": {"domain": [0.7, 1.1], "nice": false, "zero": false},
                 "axis": {"orient": "right", "values": [0.7,0.71,0.72,0.73,0.74,0.75,0.76,0.77,0.78,0.79,0.8,0.81,0.82,0.83,0.84,0.85,0.86,0.87,0.88,0.89,0.9,0.91,0.92,0.93,0.94,0.95,0.96,0.97,0.98,0.99,1.0,1.01,1.02,1.03,1.04,1.05,1.06,1.07,1.08,1.09,1.1], "labels": false, "ticks": true, "tickSize": 3, "offset": -3, "grid": false, "title": null}},
           "text": {"field": "t"}}},
        {"data": {"values": [{"w": 1594.2, "v": 0.763, "t": "Model"}]},
         "mark": {"type": "text", "align": "left", "baseline": "middle", "fontSize": 15.5, "color": "#000000"},
         "encoding": {
           "x": {"field": "w", "type": "quantitative", "scale": {"domain": [1592.5, 1616.7], "nice": false, "zero": false}, "axis": null},
           "y": {"field": "v", "type": "quantitative", "scale": {"domain": [0.7, 1.1], "nice": false, "zero": false}, "axis": null},
           "text": {"field": "t"}}}
      ]
    },
    {
      "width": 360, "height": 105,
      "title": "Methane (CH4) Fit",
      "data": {"name": "c1"},
      "resolve": {"axis": {"x": "independent", "y": "independent"}},
      "layer": [
        {"mark": {"type": "point", "shape": "diamond", "filled": false, "color": "#8c8c8c", "strokeWidth": 1, "size": 64},
         "encoding": {
           "x": {"field": "w", "type": "quantitative", "scale": {"domain": [1630, 1674.4], "nice": false, "zero": false},
                 "axis": {"orient": "bottom", "values": [1630, 1640, 1650, 1660, 1670], "grid": true, "labels": false, "title": null}},
           "y": {"field": "m", "type": "quantitative", "scale": {"domain": [-0.25, 0.05], "nice": false, "zero": false},
                 "axis": {"orient": "left", "values": [-0.25, -0.2, -0.15, -0.1, -0.05, 0, 0.05], "grid": true, "format": ".2f", "labelExpr": "replace(datum.label, '\u2212', '-')", "labelFlush": true, "labelFlushOffset": 3, "labelFontSize": 12, "title": "dlnI/dV*V [-]"}}}},
        {"transform": [{"filter": {"field": "f", "valid": true}}],
         "mark": {"type": "line", "color": "#000000", "strokeWidth": 1.7, "interpolate": "monotone"},
         "encoding": {
           "x": {"field": "w", "type": "quantitative", "scale": {"domain": [1630, 1674.4], "nice": false, "zero": false},
                 "axis": {"orient": "bottom", "values": [1630,1632,1634,1636,1638,1640,1642,1644,1646,1648,1650,1652,1654,1656,1658,1660,1662,1664,1666,1668,1670,1672,1674], "labels": false, "ticks": true, "tickSize": 3, "offset": -3, "grid": false, "title": null}},
           "y": {"field": "f", "type": "quantitative", "scale": {"domain": [-0.25, 0.05], "nice": false, "zero": false},
                 "axis": {"orient": "left", "values": [-0.25,-0.24,-0.23,-0.22,-0.21,-0.2,-0.19,-0.18,-0.17,-0.16,-0.15,-0.14,-0.13,-0.12,-0.11,-0.1,-0.09,-0.08,-0.07,-0.06,-0.05,-0.04,-0.03,-0.02,-0.01,0,0.01,0.02,0.03,0.04,0.05], "labels": false, "ticks": true, "tickSize": 3, "offset": -3, "grid": false, "title": null}}}},
        {"data": {"values": [{"w": 1633.55, "v": -0.115, "t": "0.989 +/-\u00a0\u00a00.014"}]},
         "mark": {"type": "text", "align": "left", "baseline": "middle", "fontSize": 14, "color": "#000000"},
         "encoding": {
           "x": {"field": "w", "type": "quantitative", "scale": {"domain": [1630, 1674.4], "nice": false, "zero": false},
                 "axis": {"orient": "top", "values": [1630,1632,1634,1636,1638,1640,1642,1644,1646,1648,1650,1652,1654,1656,1658,1660,1662,1664,1666,1668,1670,1672,1674], "labels": false, "ticks": true, "tickSize": 3, "offset": -3, "grid": false, "title": null}},
           "y": {"field": "v", "type": "quantitative", "scale": {"domain": [-0.25, 0.05], "nice": false, "zero": false},
                 "axis": {"orient": "right", "values": [-0.25,-0.24,-0.23,-0.22,-0.21,-0.2,-0.19,-0.18,-0.17,-0.16,-0.15,-0.14,-0.13,-0.12,-0.11,-0.1,-0.09,-0.08,-0.07,-0.06,-0.05,-0.04,-0.03,-0.02,-0.01,0,0.01,0.02,0.03,0.04,0.05], "labels": false, "ticks": true, "tickSize": 3, "offset": -3, "grid": false, "title": null}},
           "text": {"field": "t"}}}
      ]
    },
    {
      "width": 357, "height": 105,
      "title": "Carbon dioxide (CO2) Fit",
      "data": {"name": "c2"},
      "resolve": {"axis": {"x": "independent", "y": "independent"}},
      "layer": [
        {"mark": {"type": "point", "shape": "diamond", "filled": false, "color": "#8c8c8c", "strokeWidth": 1, "size": 64},
         "encoding": {
           "x": {"field": "w", "type": "quantitative", "scale": {"domain": [1592.5, 1616.7], "nice": false, "zero": false},
                 "axis": {"orient": "bottom", "values": [1595, 1600, 1605, 1610, 1615], "grid": true, "labels": false, "title": null}},
           "y": {"field": "m", "type": "quantitative", "scale": {"domain": [-0.2, 0.05], "nice": false, "zero": false},
                 "axis": {"orient": "left", "values": [-0.2, -0.15, -0.1, -0.05, 0, 0.05], "grid": true, "format": ".2f", "labelExpr": "replace(datum.label, '\u2212', '-')", "labelFlush": true, "labelPadding": 7, "titlePadding": 11, "title": "dlnI/dV*V [-]"}}}},
        {"transform": [{"filter": {"field": "f", "valid": true}}],
         "mark": {"type": "line", "color": "#000000", "strokeWidth": 1.7, "interpolate": "monotone"},
         "encoding": {
           "x": {"field": "w", "type": "quantitative", "scale": {"domain": [1592.5, 1616.7], "nice": false, "zero": false},
                 "axis": {"orient": "bottom", "values": [1593,1594,1595,1596,1597,1598,1599,1600,1601,1602,1603,1604,1605,1606,1607,1608,1609,1610,1611,1612,1613,1614,1615,1616], "labels": false, "ticks": true, "tickSize": 3, "offset": -3, "grid": false, "title": null}},
           "y": {"field": "f", "type": "quantitative", "scale": {"domain": [-0.2, 0.05], "nice": false, "zero": false},
                 "axis": {"orient": "left", "values": [-0.2,-0.19,-0.18,-0.17,-0.16,-0.15,-0.14,-0.13,-0.12,-0.11,-0.1,-0.09,-0.08,-0.07,-0.06,-0.05,-0.04,-0.03,-0.02,-0.01,0,0.01,0.02,0.03,0.04,0.05], "labels": false, "ticks": true, "tickSize": 3, "offset": -3, "grid": false, "title": null}}}},
        {"data": {"values": [{"w": 1594.33, "v": -0.159, "t": "0.991 +/-\u00a0\u00a00.022"}]},
         "mark": {"type": "text", "align": "left", "baseline": "middle", "fontSize": 14, "color": "#000000"},
         "encoding": {
           "x": {"field": "w", "type": "quantitative", "scale": {"domain": [1592.5, 1616.7], "nice": false, "zero": false},
                 "axis": {"orient": "top", "values": [1593,1594,1595,1596,1597,1598,1599,1600,1601,1602,1603,1604,1605,1606,1607,1608,1609,1610,1611,1612,1613,1614,1615,1616], "labels": false, "ticks": true, "tickSize": 3, "offset": -3, "grid": false, "title": null}},
           "y": {"field": "v", "type": "quantitative", "scale": {"domain": [-0.2, 0.05], "nice": false, "zero": false},
                 "axis": {"orient": "right", "values": [-0.2,-0.19,-0.18,-0.17,-0.16,-0.15,-0.14,-0.13,-0.12,-0.11,-0.1,-0.09,-0.08,-0.07,-0.06,-0.05,-0.04,-0.03,-0.02,-0.01,0,0.01,0.02,0.03,0.04,0.05], "labels": false, "ticks": true, "tickSize": 3, "offset": -3, "grid": false, "title": null}},
           "text": {"field": "t"}}}
      ]
    },
    {
      "width": 360, "height": 46,
      "title": {"text": "CO2 Fit", "offset": -7},
      "data": {"name": "g1"},
      "resolve": {"axis": {"x": "independent", "y": "independent"}},
      "layer": [
        {"mark": {"type": "point", "shape": "diamond", "filled": false, "color": "#8c8c8c", "strokeWidth": 1, "size": 64},
         "encoding": {
           "x": {"field": "w", "type": "quantitative", "scale": {"domain": [1630, 1674.4], "nice": false, "zero": false},
                 "axis": {"orient": "bottom", "values": [1630, 1640, 1650, 1660, 1670], "grid": true, "labels": false, "title": null}},
           "y": {"field": "om", "type": "quantitative", "scale": {"domain": [-0.06, 0.06], "nice": false, "zero": false},
                 "axis": {"orient": "left", "values": [-0.06, -0.02, 0.02, 0.06], "grid": true, "format": ".2f", "labelExpr": "replace(datum.label, '\u2212', '-')", "labelFlush": true, "labelFlushOffset": 4, "labelFontSize": 12, "title": "dlnI/dV*V [-]"}}}},
        {"mark": {"type": "line", "color": "#000000", "strokeWidth": 1.7, "interpolate": "monotone"},
         "encoding": {
           "x": {"field": "w", "type": "quantitative", "scale": {"domain": [1630, 1674.4], "nice": false, "zero": false},
                 "axis": {"orient": "bottom", "values": [1630,1632,1634,1636,1638,1640,1642,1644,1646,1648,1650,1652,1654,1656,1658,1660,1662,1664,1666,1668,1670,1672,1674], "labels": false, "ticks": true, "tickSize": 3, "offset": -3, "grid": false, "title": null}},
           "y": {"field": "of", "type": "quantitative", "scale": {"domain": [-0.06, 0.06], "nice": false, "zero": false},
                 "axis": {"orient": "left", "values": [-0.06,-0.05,-0.04,-0.03,-0.02,-0.01,0,0.01,0.02,0.03,0.04,0.05,0.06], "labels": false, "ticks": true, "tickSize": 3, "offset": -3, "grid": false, "title": null}}}},
        {"mark": {"type": "point", "opacity": 0},
         "encoding": {
           "x": {"field": "w", "type": "quantitative", "scale": {"domain": [1630, 1674.4], "nice": false, "zero": false},
                 "axis": {"orient": "top", "values": [1630,1632,1634,1636,1638,1640,1642,1644,1646,1648,1650,1652,1654,1656,1658,1660,1662,1664,1666,1668,1670,1672,1674], "labels": false, "ticks": true, "tickSize": 3, "offset": -3, "grid": false, "title": null}},
           "y": {"field": "om", "type": "quantitative", "scale": {"domain": [-0.06, 0.06], "nice": false, "zero": false},
                 "axis": {"orient": "right", "values": [-0.06,-0.05,-0.04,-0.03,-0.02,-0.01,0,0.01,0.02,0.03,0.04,0.05,0.06], "labels": false, "ticks": true, "tickSize": 3, "offset": -3, "grid": false, "title": null}}}}
      ]
    },
    {
      "width": 357, "height": 46,
      "title": {"text": "H2O Fit", "offset": -7},
      "data": {"name": "g2"},
      "resolve": {"axis": {"x": "independent", "y": "independent"}},
      "layer": [
        {"mark": {"type": "point", "shape": "diamond", "filled": false, "color": "#8c8c8c", "strokeWidth": 1, "size": 64},
         "encoding": {
           "x": {"field": "w", "type": "quantitative", "scale": {"domain": [1592.5, 1616.7], "nice": false, "zero": false},
                 "axis": {"orient": "bottom", "values": [1595, 1600, 1605, 1610, 1615], "grid": true, "labels": false, "title": null}},
           "y": {"field": "hm", "type": "quantitative", "scale": {"domain": [-0.04, 0.04], "nice": false, "zero": false},
                 "axis": {"orient": "left", "values": [-0.04, -0.013333, 0.013333, 0.04], "grid": true, "format": ".4f", "labelExpr": "replace(datum.label, '\u2212', '-')", "labelFlush": true, "labelFlushOffset": 4, "labelFontSize": 12, "labelPadding": 7, "titlePadding": 11, "title": "dlnI/dV*V [-]"}}}},
        {"mark": {"type": "line", "color": "#000000", "strokeWidth": 1.7, "interpolate": "monotone"},
         "encoding": {
           "x": {"field": "w", "type": "quantitative", "scale": {"domain": [1592.5, 1616.7], "nice": false, "zero": false},
                 "axis": {"orient": "bottom", "values": [1593,1594,1595,1596,1597,1598,1599,1600,1601,1602,1603,1604,1605,1606,1607,1608,1609,1610,1611,1612,1613,1614,1615,1616], "labels": false, "ticks": true, "tickSize": 3, "offset": -3, "grid": false, "title": null}},
           "y": {"field": "hf", "type": "quantitative", "scale": {"domain": [-0.04, 0.04], "nice": false, "zero": false},
                 "axis": {"orient": "left", "values": [-0.04,-0.03333,-0.02667,-0.02,-0.01333,-0.00667,0,0.00667,0.01333,0.02,0.02667,0.03333,0.04], "labels": false, "ticks": true, "tickSize": 3, "offset": -3, "grid": false, "title": null}}}},
        {"mark": {"type": "point", "opacity": 0},
         "encoding": {
           "x": {"field": "w", "type": "quantitative", "scale": {"domain": [1592.5, 1616.7], "nice": false, "zero": false},
                 "axis": {"orient": "top", "values": [1593,1594,1595,1596,1597,1598,1599,1600,1601,1602,1603,1604,1605,1606,1607,1608,1609,1610,1611,1612,1613,1614,1615,1616], "labels": false, "ticks": true, "tickSize": 3, "offset": -3, "grid": false, "title": null}},
           "y": {"field": "hm", "type": "quantitative", "scale": {"domain": [-0.04, 0.04], "nice": false, "zero": false},
                 "axis": {"orient": "right", "values": [-0.04,-0.03333,-0.02667,-0.02,-0.01333,-0.00667,0,0.00667,0.01333,0.02,0.02667,0.03333,0.04], "labels": false, "ticks": true, "tickSize": 3, "offset": -3, "grid": false, "title": null}}}}
      ]
    },
    {
      "width": 360, "height": 46,
      "title": {"text": "H2O Fit", "offset": -7},
      "data": {"name": "h1"},
      "resolve": {"axis": {"x": "independent", "y": "independent"}},
      "layer": [
        {"mark": {"type": "point", "shape": "diamond", "filled": false, "color": "#8c8c8c", "strokeWidth": 1, "size": 64},
         "encoding": {
           "x": {"field": "w", "type": "quantitative", "scale": {"domain": [1630, 1674.4], "nice": false, "zero": false},
                 "axis": {"orient": "bottom", "values": [1630, 1640, 1650, 1660, 1670], "grid": true, "labels": false, "title": null}},
           "y": {"field": "m", "type": "quantitative", "scale": {"domain": [-0.06, 0.06], "nice": false, "zero": false},
                 "axis": {"orient": "left", "values": [-0.06, -0.02, 0.02, 0.06], "grid": true, "format": ".2f", "labelExpr": "replace(datum.label, '\u2212', '-')", "labelFlush": true, "labelFlushOffset": 4, "labelFontSize": 12, "title": "dlnI/dV*V [-]"}}}},
        {"mark": {"type": "line", "color": "#000000", "strokeWidth": 1.7, "interpolate": "monotone"},
         "encoding": {
           "x": {"field": "w", "type": "quantitative", "scale": {"domain": [1630, 1674.4], "nice": false, "zero": false},
                 "axis": {"orient": "bottom", "values": [1630,1632,1634,1636,1638,1640,1642,1644,1646,1648,1650,1652,1654,1656,1658,1660,1662,1664,1666,1668,1670,1672,1674], "labels": false, "ticks": true, "tickSize": 3, "offset": -3, "grid": false, "title": null}},
           "y": {"field": "f", "type": "quantitative", "scale": {"domain": [-0.06, 0.06], "nice": false, "zero": false},
                 "axis": {"orient": "left", "values": [-0.06,-0.05,-0.04,-0.03,-0.02,-0.01,0,0.01,0.02,0.03,0.04,0.05,0.06], "labels": false, "ticks": true, "tickSize": 3, "offset": -3, "grid": false, "title": null}}}},
        {"mark": {"type": "point", "opacity": 0},
         "encoding": {
           "x": {"field": "w", "type": "quantitative", "scale": {"domain": [1630, 1674.4], "nice": false, "zero": false},
                 "axis": {"orient": "top", "values": [1630,1632,1634,1636,1638,1640,1642,1644,1646,1648,1650,1652,1654,1656,1658,1660,1662,1664,1666,1668,1670,1672,1674], "labels": false, "ticks": true, "tickSize": 3, "offset": -3, "grid": false, "title": null}},
           "y": {"field": "m", "type": "quantitative", "scale": {"domain": [-0.06, 0.06], "nice": false, "zero": false},
                 "axis": {"orient": "right", "values": [-0.06,-0.05,-0.04,-0.03,-0.02,-0.01,0,0.01,0.02,0.03,0.04,0.05,0.06], "labels": false, "ticks": true, "tickSize": 3, "offset": -3, "grid": false, "title": null}}}}
      ]
    },
    {
      "width": 357, "height": 46,
      "title": {"text": "TEM Fit", "offset": -7},
      "data": {"name": "g2"},
      "resolve": {"axis": {"x": "independent", "y": "independent"}},
      "layer": [
        {"mark": {"type": "point", "shape": "diamond", "filled": false, "color": "#8c8c8c", "strokeWidth": 1, "size": 64},
         "encoding": {
           "x": {"field": "w", "type": "quantitative", "scale": {"domain": [1592.5, 1616.7], "nice": false, "zero": false},
                 "axis": {"orient": "bottom", "values": [1595, 1600, 1605, 1610, 1615], "grid": true, "labels": false, "title": null}},
           "y": {"field": "tm", "type": "quantitative", "scale": {"domain": [-0.04, 0.04], "nice": false, "zero": false},
                 "axis": {"orient": "left", "values": [-0.04, -0.013333, 0.013333, 0.04], "grid": true, "format": ".4f", "labelExpr": "replace(datum.label, '\u2212', '-')", "labelFlush": true, "labelFlushOffset": 4, "labelFontSize": 12, "labelPadding": 7, "titlePadding": 11, "title": "dlnI/dV*V [-]"}}}},
        {"mark": {"type": "line", "color": "#000000", "strokeWidth": 1.7},
         "encoding": {
           "x": {"field": "w", "type": "quantitative", "scale": {"domain": [1592.5, 1616.7], "nice": false, "zero": false},
                 "axis": {"orient": "bottom", "values": [1593,1594,1595,1596,1597,1598,1599,1600,1601,1602,1603,1604,1605,1606,1607,1608,1609,1610,1611,1612,1613,1614,1615,1616], "labels": false, "ticks": true, "tickSize": 3, "offset": -3, "grid": false, "title": null}},
           "y": {"field": "tf", "type": "quantitative", "scale": {"domain": [-0.04, 0.04], "nice": false, "zero": false},
                 "axis": {"orient": "left", "values": [-0.04,-0.03333,-0.02667,-0.02,-0.01333,-0.00667,0,0.00667,0.01333,0.02,0.02667,0.03333,0.04], "labels": false, "ticks": true, "tickSize": 3, "offset": -3, "grid": false, "title": null}}}},
        {"mark": {"type": "point", "opacity": 0},
         "encoding": {
           "x": {"field": "w", "type": "quantitative", "scale": {"domain": [1592.5, 1616.7], "nice": false, "zero": false},
                 "axis": {"orient": "top", "values": [1593,1594,1595,1596,1597,1598,1599,1600,1601,1602,1603,1604,1605,1606,1607,1608,1609,1610,1611,1612,1613,1614,1615,1616], "labels": false, "ticks": true, "tickSize": 3, "offset": -3, "grid": false, "title": null}},
           "y": {"field": "tm", "type": "quantitative", "scale": {"domain": [-0.04, 0.04], "nice": false, "zero": false},
                 "axis": {"orient": "right", "values": [-0.04,-0.03333,-0.02667,-0.02,-0.01333,-0.00667,0,0.00667,0.01333,0.02,0.02667,0.03333,0.04], "labels": false, "ticks": true, "tickSize": 3, "offset": -3, "grid": false, "title": null}}}}
      ]
    },
    {
      "width": 360, "height": 46,
      "title": {"text": "Residuum (Measurement - Model)", "offset": 5},
      "data": {"name": "g1"},
      "resolve": {"axis": {"x": "independent", "y": "independent"}},
      "layer": [
        {"mark": {"type": "point", "shape": "diamond", "filled": false, "color": "#8c8c8c", "strokeWidth": 1, "size": 64},
         "encoding": {
           "x": {"field": "w", "type": "quantitative", "scale": {"domain": [1630, 1674.4], "nice": false, "zero": false},
                 "axis": {"orient": "bottom", "values": [1630, 1640, 1650, 1660, 1670], "grid": true, "labels": true, "labelFlush": false, "format": "d", "labelPadding": 9, "title": "Wavelength [nm]", "titlePadding": 4}},
           "y": {"field": "r", "type": "quantitative", "scale": {"domain": [-0.05, 0.05], "nice": false, "zero": false},
                 "axis": {"orient": "left", "values": [-0.04, 0, 0.04], "grid": true, "format": ".2f", "labelExpr": "replace(datum.label, '\u2212', '-')", "title": "RES [-]"}}}},
        {"data": {"values": [{"w": 1633.2, "v": 0.029, "t": "RMS:\u00a0\u00a00.64%"}]},
         "mark": {"type": "text", "align": "left", "baseline": "middle", "fontSize": 14, "color": "#000000"},
         "encoding": {
           "x": {"field": "w", "type": "quantitative", "scale": {"domain": [1630, 1674.4], "nice": false, "zero": false},
                 "axis": {"orient": "bottom", "values": [1630,1632,1634,1636,1638,1640,1642,1644,1646,1648,1650,1652,1654,1656,1658,1660,1662,1664,1666,1668,1670,1672,1674], "labels": false, "ticks": true, "tickSize": 3, "offset": -3, "grid": false, "title": null}},
           "y": {"field": "v", "type": "quantitative", "scale": {"domain": [-0.05, 0.05], "nice": false, "zero": false},
                 "axis": {"orient": "left", "values": [-0.05,-0.04,-0.03,-0.02,-0.01,0,0.01,0.02,0.03,0.04,0.05], "labels": false, "ticks": true, "tickSize": 3, "offset": -3, "grid": false, "title": null}},
           "text": {"field": "t"}}},
        {"mark": {"type": "point", "opacity": 0},
         "encoding": {
           "x": {"field": "w", "type": "quantitative", "scale": {"domain": [1630, 1674.4], "nice": false, "zero": false},
                 "axis": {"orient": "top", "values": [1630,1632,1634,1636,1638,1640,1642,1644,1646,1648,1650,1652,1654,1656,1658,1660,1662,1664,1666,1668,1670,1672,1674], "labels": false, "ticks": true, "tickSize": 3, "offset": -3, "grid": false, "title": null}},
           "y": {"field": "r", "type": "quantitative", "scale": {"domain": [-0.05, 0.05], "nice": false, "zero": false},
                 "axis": {"orient": "right", "values": [-0.05,-0.04,-0.03,-0.02,-0.01,0,0.01,0.02,0.03,0.04,0.05], "labels": false, "ticks": true, "tickSize": 3, "offset": -3, "grid": false, "title": null}}}}
      ]
    },
    {
      "width": 357, "height": 46,
      "title": {"text": "Residuum (Measurement - Model)", "offset": 5},
      "data": {"name": "g2"},
      "resolve": {"axis": {"x": "independent", "y": "independent"}},
      "layer": [
        {"mark": {"type": "point", "shape": "diamond", "filled": false, "color": "#8c8c8c", "strokeWidth": 1, "size": 64},
         "encoding": {
           "x": {"field": "w", "type": "quantitative", "scale": {"domain": [1592.5, 1616.7], "nice": false, "zero": false},
                 "axis": {"orient": "bottom", "values": [1595, 1600, 1605, 1610, 1615], "grid": true, "labels": true, "labelFlush": false, "format": "d", "labelPadding": 9, "title": "Wavelength [nm]", "titlePadding": 4}},
           "y": {"field": "r", "type": "quantitative", "scale": {"domain": [-0.05, 0.05], "nice": false, "zero": false},
                 "axis": {"orient": "left", "values": [-0.04, 0, 0.04], "grid": true, "format": ".2f", "labelExpr": "replace(datum.label, '\u2212', '-')", "labelPadding": 7, "titlePadding": 11, "title": "RES [-]"}}}},
        {"data": {"values": [{"w": 1594.13, "v": 0.028, "t": "RMS:\u00a0\u00a00.62%"}]},
         "mark": {"type": "text", "align": "left", "baseline": "middle", "fontSize": 14, "color": "#000000"},
         "encoding": {
           "x": {"field": "w", "type": "quantitative", "scale": {"domain": [1592.5, 1616.7], "nice": false, "zero": false},
                 "axis": {"orient": "bottom", "values": [1593,1594,1595,1596,1597,1598,1599,1600,1601,1602,1603,1604,1605,1606,1607,1608,1609,1610,1611,1612,1613,1614,1615,1616], "labels": false, "ticks": true, "tickSize": 3, "offset": -3, "grid": false, "title": null}},
           "y": {"field": "v", "type": "quantitative", "scale": {"domain": [-0.05, 0.05], "nice": false, "zero": false},
                 "axis": {"orient": "left", "values": [-0.05,-0.04,-0.03,-0.02,-0.01,0,0.01,0.02,0.03,0.04,0.05], "labels": false, "ticks": true, "tickSize": 3, "offset": -3, "grid": false, "title": null}},
           "text": {"field": "t"}}},
        {"mark": {"type": "point", "opacity": 0},
         "encoding": {
           "x": {"field": "w", "type": "quantitative", "scale": {"domain": [1592.5, 1616.7], "nice": false, "zero": false},
                 "axis": {"orient": "top", "values": [1593,1594,1595,1596,1597,1598,1599,1600,1601,1602,1603,1604,1605,1606,1607,1608,1609,1610,1611,1612,1613,1614,1615,1616], "labels": false, "ticks": true, "tickSize": 3, "offset": -3, "grid": false, "title": null}},
           "y": {"field": "r", "type": "quantitative", "scale": {"domain": [-0.05, 0.05], "nice": false, "zero": false},
                 "axis": {"orient": "right", "values": [-0.05,-0.04,-0.03,-0.02,-0.01,0,0.01,0.02,0.03,0.04,0.05], "labels": false, "ticks": true, "tickSize": 3, "offset": -3, "grid": false, "title": null}}}}
      ]
    }
  ]
}
